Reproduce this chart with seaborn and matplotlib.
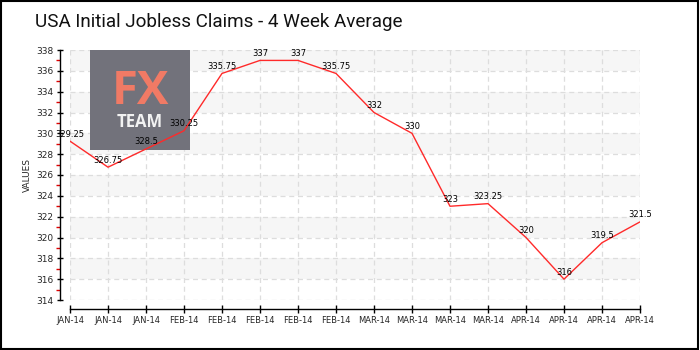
import matplotlib
matplotlib.use("Agg")
import matplotlib.pyplot as plt
from matplotlib.patches import Rectangle
import seaborn as sns
import pandas as pd
import numpy as np

# Weekly 4-week average of initial jobless claims (thousands)
month_labels = ["JAN-14", "JAN-14", "JAN-14", "FEB-14", "FEB-14", "FEB-14", "FEB-14", "FEB-14",
                "MAR-14", "MAR-14", "MAR-14", "MAR-14", "APR-14", "APR-14", "APR-14", "APR-14"]
claims = [329.25, 326.75, 328.5, 330.25, 335.75, 337, 337, 335.75,
          332, 330, 323, 323.25, 320, 316, 319.5, 321.5]
value_labels = ["329.25", "326.75", "328.5", "330.25", "335.75", "337", "337", "335.75",
                "332", "330", "323", "323.25", "320", "316", "319.5", "321.5"]

df = pd.DataFrame({"week": np.arange(len(claims)), "claims": claims})

sns.set_style("white")
plt.rcParams["font.family"] = ["DejaVu Sans"]

fig = plt.figure(figsize=(7, 3.5), dpi=100)
ax = fig.add_axes([70 / 700, 1 - 300 / 350, 570 / 700, 250 / 350])

y_min, y_max = 314, 338
ax.set_xlim(0, len(claims) - 1)
ax.set_ylim(y_min, y_max)

# alternating horizontal bands
for lo in range(y_min, y_max, 2):
    if ((lo - y_min) // 2) % 2 == 1:
        ax.axhspan(lo, lo + 2, color="#f6f6f6", zorder=0, lw=0)

# dashed grid
for yv in range(y_min, y_max + 1, 2):
    ax.axhline(yv, color="#dddddd", lw=0.9, ls=(0, (4, 3)), zorder=1)
for xv in range(len(claims)):
    ax.axvline(xv, color="#dddddd", lw=0.9, ls=(0, (4, 3)), zorder=1)

# logo block
ax.add_patch(Rectangle((90 / 700, 1 - 150 / 350), 100 / 700, 100 / 350,
                       transform=fig.transFigure, facecolor="#72727b", edgecolor="none",
                       zorder=2))
fig.text(140 / 700, 1 - 91 / 350, "FX", ha="center", va="center", color="#f07a65",
         fontsize=34, fontweight="bold", family="Open Sans", zorder=3)
fig.text(140 / 700, 1 - 122 / 350, "TEAM", ha="center", va="center", color="#f2f2f2",
         fontsize=12, fontweight="bold", family="Open Sans", zorder=3)

sns.lineplot(data=df, x="week", y="claims", color="#ff2a2a", lw=1.0, ax=ax, zorder=4)

for i, (v, lab) in enumerate(zip(claims, value_labels)):
    ax.text(i, v + 0.25, lab, ha="center", va="bottom", fontsize=6, color="black", zorder=5)

# axes styling
for s in ["top", "right"]:
    ax.spines[s].set_visible(False)
ax.spines["left"].set_position(("outward", 7.2))
ax.spines["bottom"].set_position(("outward", 6.5))
ax.spines["left"].set_color("black")
ax.spines["bottom"].set_color("black")
ax.spines["left"].set_linewidth(1)
ax.spines["bottom"].set_linewidth(1)

ax.set_xticks(range(len(claims)))
ax.set_xticklabels(month_labels, fontsize=6)
ax.set_yticks(range(y_min, y_max + 1, 2))
ax.set_yticklabels([str(v) for v in range(y_min, y_max + 1, 2)], fontsize=6.5)
ax.set_yticks(range(y_min + 1, y_max, 2), minor=True)
ax.tick_params(axis="y", which="major", direction="inout", length=5, width=1, color="black", pad=2, left=True)
ax.tick_params(axis="y", which="minor", direction="out", length=3, width=1, color="#dd0000", left=True)
ax.tick_params(axis="x", which="major", direction="inout", length=6, width=1, color="black", pad=2, bottom=True)
ax.set_xlabel("")
ax.set_ylabel("VALUES", fontsize=6.5, labelpad=3)

fig.text(35 / 700, 1 - 22 / 350, "USA Initial Jobless Claims - 4 Week Average",
         fontsize=13.6, family="Roboto", ha="left", va="center", color="#111111")

# figure border
fig.add_artist(Rectangle((0.002, 0.003), 0.995, 0.993, transform=fig.transFigure,
                         fill=False, edgecolor="black", lw=1.5))

fig.savefig("out.png", dpi=100)
